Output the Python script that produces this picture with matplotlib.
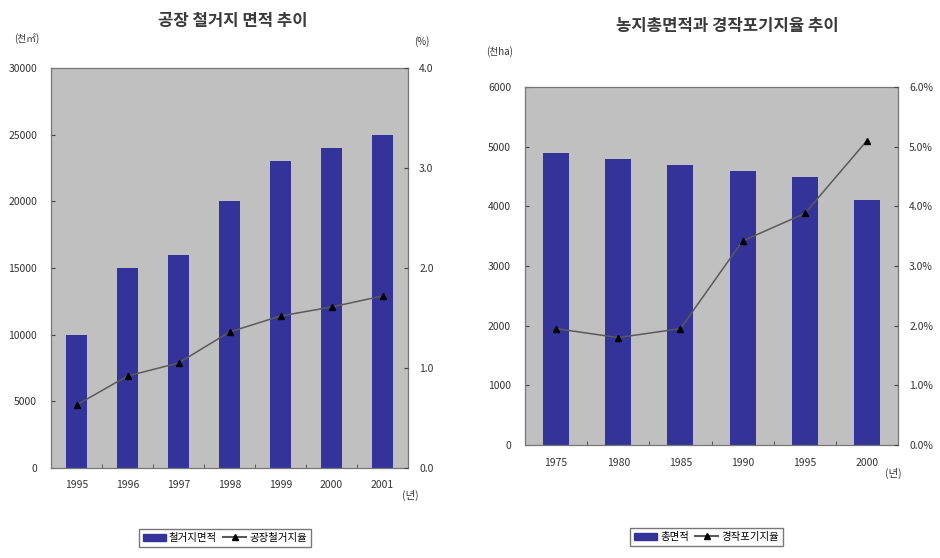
import matplotlib
matplotlib.use("Agg")
import matplotlib.pyplot as plt
import numpy as np
from matplotlib.lines import Line2D
from matplotlib.patches import Patch

plt.rcParams['font.family'] = ['Noto Sans CJK KR', 'DejaVu Sans']

# left chart data
years1 = ["1995", "1996", "1997", "1998", "1999", "2000", "2001"]
area1 = [10000, 15000, 16000, 20000, 23000, 24000, 25000]
rate1 = [0.63, 0.92, 1.05, 1.36, 1.52, 1.61, 1.72]

# right chart data
years2 = ["1975", "1980", "1985", "1990", "1995", "2000"]
area2 = [4900, 4800, 4700, 4600, 4500, 4100]
rate2 = [1.95, 1.80, 1.95, 3.42, 3.88, 5.10]

bar_color = "#333399"
bg = "#c0c0c0"
tick_color = "#444444"

fig = plt.figure(figsize=(9.4, 5.58), dpi=100)


def make_panel(rect, cats, bars, rates, ymax, rmax, rticks, rfmt, title, unit_l, unit_r,
               leg_bar, leg_line, title_xy, unitl_xy, unitr_xy, year_xy, leg_y):
    ax = fig.add_axes(rect)
    x = np.arange(len(cats))
    ax.bar(x, bars, width=0.42, color=bar_color, zorder=2)
    ax.set_xlim(-0.5, len(cats) - 0.5)
    ax.set_ylim(0, ymax)
    ax.set_facecolor(bg)
    ax.set_yticks(np.linspace(0, ymax, 7))
    ax.set_yticklabels([f"{int(v)}" for v in np.linspace(0, ymax, 7)])
    ax.set_xticks(x)
    ax.set_xticklabels(cats)
    ax.set_xticks(np.arange(len(cats) + 1) - 0.5, minor=True)
    ax.tick_params(axis="x", which="major", length=0, pad=9, labelsize=7.5, colors="#333333")
    ax.tick_params(axis="x", which="minor", direction="in", length=3, color=tick_color)
    ax.tick_params(axis="y", direction="in", length=3, labelsize=7.5, pad=10,
                   color=tick_color, labelcolor="#333333")
    for s in ax.spines.values():
        s.set_color("#777777")
        s.set_linewidth(0.9)

    ax2 = ax.twinx()
    ax2.plot(x, rates, color="#5a5a5a", lw=1.1, marker="^", ms=4.5,
             mfc="black", mec="black", zorder=3)
    ax2.set_ylim(0, rmax)
    ax2.set_yticks(rticks)
    ax2.set_yticklabels([rfmt.format(v) for v in rticks])
    ax2.tick_params(axis="y", direction="in", length=3, labelsize=7.5, pad=8,
                    color=tick_color, labelcolor="#333333")
    for s in ax2.spines.values():
        s.set_visible(False)

    fig.text(title_xy[0], title_xy[1], title, ha="center", va="center",
             fontsize=12, fontweight="bold", color="#3a3a3a")
    fig.text(unitl_xy[0], unitl_xy[1], unit_l, ha="center", va="center",
             fontsize=7, color="#333333")
    if unit_r:
        fig.text(unitr_xy[0], unitr_xy[1], unit_r, ha="center", va="center",
                 fontsize=7, color="#333333")
    fig.text(year_xy[0], year_xy[1], "(년)", ha="center", va="center",
             fontsize=7.5, color="#333333")

    handles = [Patch(facecolor=bar_color, edgecolor=bar_color),
               Line2D([], [], color="#5a5a5a", marker="^", mfc="black", mec="black", ms=4)]
    leg = fig.legend(handles, [leg_bar, leg_line], loc="center",
                     bbox_to_anchor=(rect[0] + rect[2] / 2 - 0.005, leg_y), ncol=2,
                     fontsize=7.5, frameon=True, fancybox=False, handlelength=2.2,
                     handletextpad=0.3, columnspacing=0.6, borderpad=0.4)
    leg.get_frame().set_edgecolor("#555555")
    leg.get_frame().set_linewidth(1.0)
    return ax, ax2


make_panel([51 / 940, 90 / 558, 357 / 940, 400 / 558], years1, area1, rate1,
           30000, 4.0, [0, 1, 2, 3, 4], "{:.1f}",
           "공장 철거지 면적 추이", "(천㎡)", "(%)",
           "철거지면적", "공장철거지율",
           (233 / 940, 1 - 21 / 558), (27 / 940, 1 - 39 / 558), (422 / 940, 1 - 42 / 558),
           (410 / 940, 1 - 495 / 558), 1 - 538 / 558)

make_panel([525 / 940, 113 / 558, 373 / 940, 358 / 558], years2, area2, rate2,
           6000, 6.0, [0, 1, 2, 3, 4, 5, 6], "{:.1f}%",
           "농지총면적과 경작포기지율 추이", "(천ha)", "",
           "총면적", "경작포기지율",
           (727 / 940, 1 - 26 / 558), (500 / 940, 1 - 52 / 558), (0, 0),
           (893 / 940, 1 - 473 / 558), 1 - 537 / 558)

fig.savefig("out.png", dpi=100, facecolor="white")
